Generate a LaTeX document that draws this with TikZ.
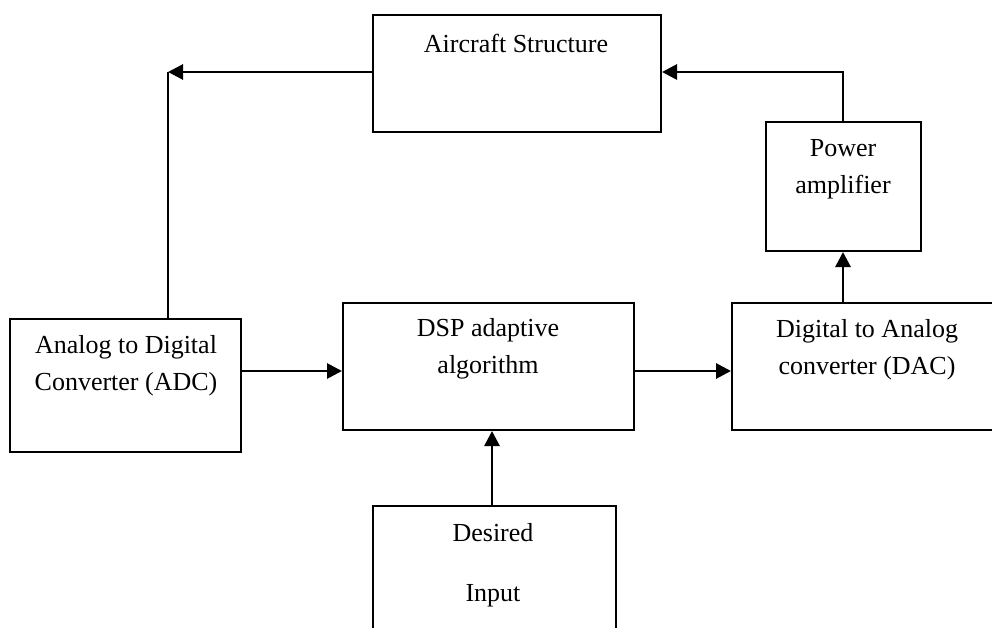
\documentclass[tikz,border=0pt]{standalone}
\usepackage{fontspec}
\setmainfont{Liberation Serif}
\usetikzlibrary{arrows.meta}
\begin{document}
\begin{tikzpicture}[x=1pt,y=-1pt,
  box/.style={draw,line width=2pt,rectangle,inner sep=0pt},
  lbl/.style={font=\fontsize{26}{37}\selectfont,align=center,inner sep=0pt},
  arr/.style={line width=2.8pt,-{Triangle[length=15pt,width=15pt]}},
  wire/.style={line width=2.8pt}]
\clip (0,0) rectangle (992,628);
% boxes
\node[box,minimum width=288pt,minimum height=117pt] (air) at (517,73.5) {};
\node[box,minimum width=155pt,minimum height=129pt] (pa) at (843.5,186.5) {};
\node[box,minimum width=231pt,minimum height=133pt] (adc) at (125.5,385.5) {};
\node[box,minimum width=291pt,minimum height=127pt] (dsp) at (488.5,366.5) {};
\node[box,minimum width=272pt,minimum height=127pt] (dac) at (868,366.5) {};
\node[box,minimum width=243pt,minimum height=160pt] (des) at (494.5,586) {};
% labels
\node[lbl] (tair) at (516,43) {Aircraft Structure};
\node[lbl] (tpa) at (843,169) {Power\\amplifier};
\node[lbl] (tadc) at (126,366) {Analog to Digital\\Converter (ADC)};
\node[lbl] (tdsp) at (488,349) {DSP adaptive\\algorithm};
\node[lbl] (tdac) at (867,350) {Digital to Analog\\converter (DAC)};
\node[lbl] (tdes1) at (493,533) {Desired};
\node[lbl] (tdes2) at (493,596) {Input};
% coordinates
\coordinate (c1) at (168,72);
\coordinate (c2) at (843,72);
\coordinate (c3) at (0,371);
\coordinate (c4) at (492,0);
% connectors
\draw[arr] (air.west |- c1) -- (c1);
\draw[wire] (c1) -- (c1 |- adc.north);
\draw[arr] (c2 |- pa.north) -- (c2) -- (air.east |- c2);
\draw[arr] (c2 |- dac.north) -- (c2 |- pa.south);
\draw[arr] (adc.east |- c3) -- (dsp.west |- c3);
\draw[arr] (dsp.east |- c3) -- (dac.west |- c3);
\draw[arr] (c4 |- des.north) -- (c4 |- dsp.south);
\end{tikzpicture}
\end{document}
